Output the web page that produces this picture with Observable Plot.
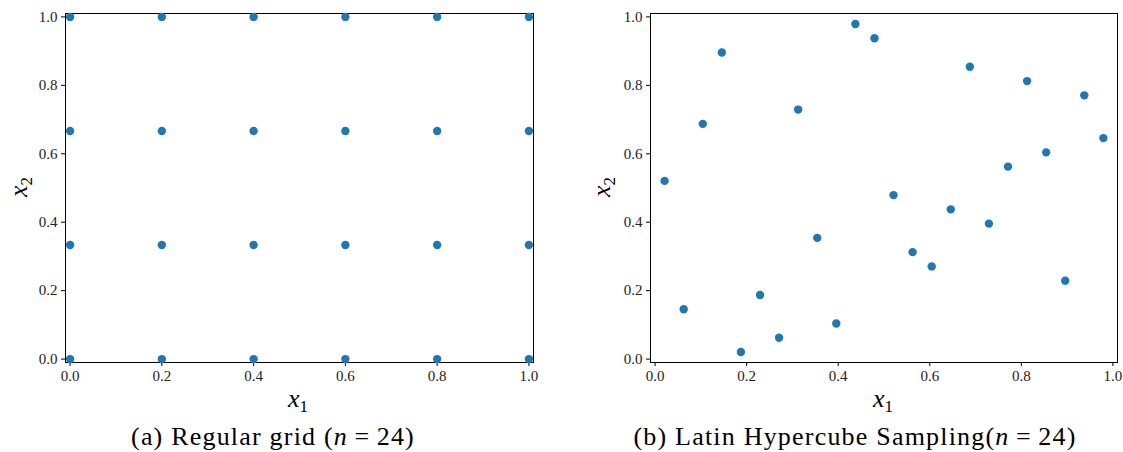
<!DOCTYPE html>
<html>
<head>
<meta charset="utf-8">
<script src="https://cdn.jsdelivr.net/npm/d3@7"></script>
<script src="https://cdn.jsdelivr.net/npm/@observablehq/plot@0.6"></script>
<style>
  body { margin: 0; background: #fff; }
  #wrap { position: relative; width: 1123px; height: 452px; font-family: "Liberation Serif", serif; color: #000; }
  .panel { position: absolute; top: 0; }
  .lab { position: absolute; font-size: 26px; font-style: italic; white-space: nowrap; line-height: 1; }
  .lab sub { font-size: 17px; font-style: normal; vertical-align: -5px; }
  .ylab { transform: translate(-50%, -50%) rotate(-90deg); }
  .xlab { transform: translate(-50%, -50%); }
  .cap { position: absolute; font-size: 26px; letter-spacing: 1.2px; white-space: nowrap; transform: translate(-50%, -50%); line-height: 1; }
  .cap i { font-style: italic; }
</style>
</head>
<body>
<div id="wrap">
  <div id="left" class="panel" style="left:0px"></div>
  <div id="right" class="panel" style="left:580px"></div>
  <div class="lab ylab" style="left:20px; top:187px"><i>x</i><sub>2</sub></div>
  <div class="lab xlab" style="left:298px; top:400px"><i>x</i><sub>1</sub></div>
  <div class="cap" style="left:273px; top:437px">(a) Regular grid (<i>n</i>&#8201;=&#8201;24)</div>
  <div class="lab ylab" style="left:603px; top:187px"><i>x</i><sub>2</sub></div>
  <div class="lab xlab" style="left:883px; top:400px"><i>x</i><sub>1</sub></div>
  <div class="cap" style="left:855px; top:437px">(b) Latin Hypercube Sampling(<i>n</i>&#8201;=&#8201;24)</div>
</div>
<script>
// Regular grid: 6 x-levels by 4 y-levels
const gridX = [0.0, 0.2, 0.4, 0.6, 0.8, 1.0];
const gridY = [0.0, 0.3333, 0.6667, 1.0];

// Latin Hypercube sample (24 points)
const lhsX = [0.0208, 0.0625, 0.1042, 0.1458, 0.1875, 0.2292, 0.2708, 0.3125,
              0.3542, 0.3958, 0.4375, 0.4792, 0.5208, 0.5625, 0.6042, 0.6458,
              0.6875, 0.7292, 0.7708, 0.8125, 0.8542, 0.8958, 0.9375, 0.9792];
const lhsY = [0.5208, 0.1458, 0.6875, 0.8958, 0.0208, 0.1875, 0.0625, 0.7292,
              0.3542, 0.1042, 0.9792, 0.9375, 0.4792, 0.3125, 0.2708, 0.4375,
              0.8542, 0.3958, 0.5625, 0.8125, 0.6042, 0.2292, 0.7708, 0.6458];

const tickVals = [0.0, 0.2, 0.4, 0.6, 0.8, 1.0];

const gridData = [];
for (const y of gridY) for (const x of gridX) gridData.push({x, y});
const lhsData = lhsX.map((x, i) => ({x, y: lhsY[i]}));

const font = "Liberation Serif";
function panel(data, width, marginLeft, marginRight) {
  return Plot.plot({
    width, height: 390,
    marginLeft, marginRight, marginTop: 13, marginBottom: 28,
    style: { background: "#fff", color: "#000" },
    x: { domain: [-0.01, 1.01] },
    y: { domain: [-0.01, 1.01] },
    marks: [
      Plot.axisX({ ticks: tickVals, tickFormat: d3.format(".1f"), label: null, tickSize: 4, tickPadding: 4,
                   fontFamily: font, fontSize: 15, fill: "#222", stroke: "#000" }),
      Plot.axisY({ ticks: tickVals, tickFormat: d3.format(".1f"), label: null, tickSize: 4, tickPadding: 4,
                   fontFamily: font, fontSize: 15, fill: "#222", stroke: "#000" }),
      Plot.frame({ stroke: "#000", strokeWidth: 1 }),
      Plot.dot(data, { x: "x", y: "y", r: 4.2, fill: "#1f77b4", stroke: "none" })
    ]
  });
}

document.getElementById("left").append(panel(gridData, 560, 65, 27));
document.getElementById("right").append(panel(lhsData, 543, 70, 6));
</script>
</body>
</html>
